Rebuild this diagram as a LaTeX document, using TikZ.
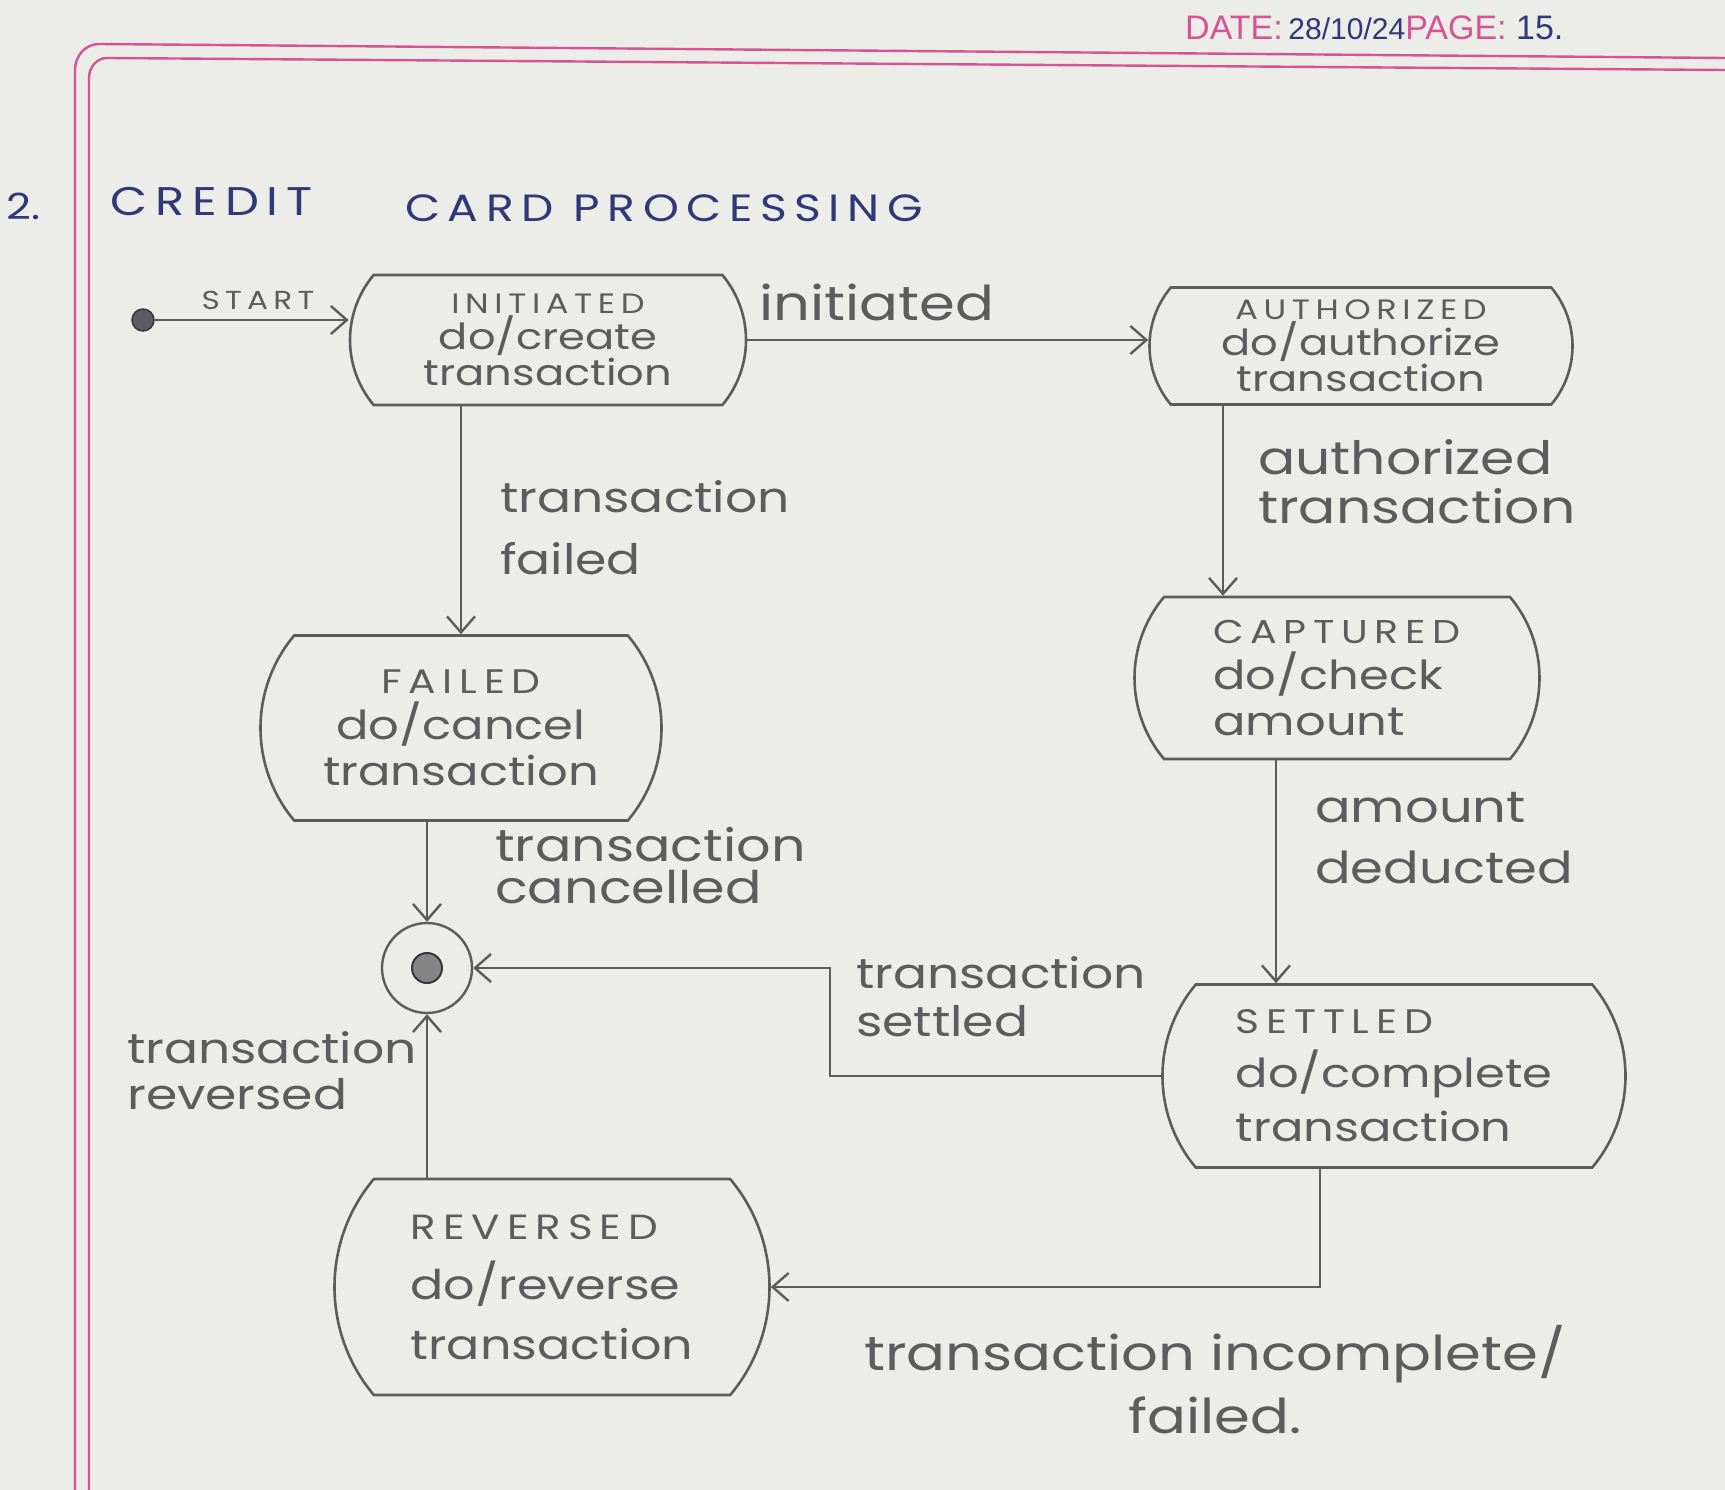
\documentclass[tikz,border=0pt]{standalone}
\usepackage{fontspec}
\setmainfont[FakeStretch=1.2]{Poppins}
\newfontfamily\capsfont[FakeStretch=1.2, LetterSpace=20]{Poppins}
\newfontfamily\headfont{Liberation Sans}
\usetikzlibrary{shapes.misc, arrows.meta, calc}
\definecolor{paper}{RGB}{236,236,233}
\definecolor{pencil}{RGB}{92,92,92}
\definecolor{ink}{RGB}{48,56,120}
\definecolor{marginpink}{RGB}{214,84,146}
\begin{document}
\begin{tikzpicture}[x=1pt, y=-1pt,
  state/.style={rounded rectangle, rounded rectangle arc length=80, draw=pencil,
    line width=2.6pt, text=pencil, inner sep=0pt},
  arr/.style={draw=pencil, line width=2.4pt,
    -{Straight Barb[length=16pt, width=28pt, line width=2.4pt]}},
  lbl/.style={text=pencil, align=left, anchor=west, inner sep=0pt}]
% page
\useasboundingbox (0,0) rectangle (1725,1490);
\fill[paper] (0,0) rectangle (1725,1490);
\draw[marginpink, line width=2.4pt] (75,1490) -- (75,70) to[out=90,in=180] (99,44) -- (1725,58);
\draw[marginpink, line width=2.4pt] (89,1490) -- (89,78) to[out=90,in=180] (107,58) -- (1725,70);

% header and title
\node[anchor=west, inner sep=0pt, font=\headfont\fontsize{34}{36}\selectfont] (header) at (1185,28)
  {\textcolor{marginpink}{DATE:}\,\textcolor{ink}{\fontsize{30}{36}\selectfont 28/10/24}\textcolor{marginpink}{PAGE:}\;\textcolor{ink}{15.}};
\node[anchor=west, inner sep=0pt, text=ink, font=\fontsize{36}{40}\selectfont] (num) at (6,206) {2.};
\node[anchor=west, inner sep=0pt, text=ink, font=\capsfont\fontsize{40}{44}\selectfont] (title1) at (110,202) {CREDIT};
\node[anchor=west, inner sep=0pt, text=ink, font=\capsfont\fontsize{38}{44}\selectfont] (title2) at (405,208) {CARD PROCESSING};

% states
\node[state, minimum width=396pt, minimum height=130pt, align=center,
  font=\fontsize{36}{36}\selectfont] (init) at (548,340)
  {{\capsfont\fontsize{28}{36}\selectfont INITIATED}\\do/create\\transaction};
\node[state, minimum width=423pt, minimum height=117pt, align=center,
  font=\fontsize{36}{36}\selectfont] (auth) at (1361,346)
  {{\capsfont\fontsize{28}{36}\selectfont AUTHORIZED}\\do/authorize\\transaction};
\node[state, minimum width=401pt, minimum height=185pt, align=center,
  font=\fontsize{40}{46}\selectfont] (failed) at (461,728)
  {{\capsfont\fontsize{34}{46}\selectfont FAILED}\\do/cancel\\transaction};
\node[state, minimum width=405pt, minimum height=162pt, align=left,
  font=\fontsize{40}{46}\selectfont] (captured) at (1337,678)
  {{\capsfont\fontsize{33}{46}\selectfont CAPTURED}\\do/check\\amount};
\node[state, minimum width=463pt, minimum height=183pt, align=left,
  font=\fontsize{40}{54}\selectfont] (settled) at (1394,1076)
  {{\capsfont\fontsize{34}{54}\selectfont SETTLED}\\do/complete\\transaction};
\node[state, minimum width=435pt, minimum height=216pt, align=left,
  font=\fontsize{41}{60}\selectfont] (reversed) at (552,1287)
  {{\capsfont\fontsize{35}{60}\selectfont REVERSED}\\do/reverse\\transaction};

% pseudo states
\node[circle, fill=pencil, draw=pencil!60!black, line width=1.5pt, minimum size=22pt, inner sep=0pt] (start) at (143,320) {};
\node[circle, draw=pencil, line width=2.4pt, minimum size=90pt, inner sep=0pt] (final) at (427,968) {};
\node[circle, fill=pencil!75, draw=pencil!60!black, line width=2pt, minimum size=30pt, inner sep=0pt] (finaldot) at (final.center) {};

% helper coordinates for vertical connectors
\coordinate (xauth) at (1223,0);
\coordinate (xcap) at (1276,0);
\coordinate (xset) at (1320,0);
\coordinate (sbend) at (830,0);

% transitions
\draw[arr] (start) -- (init.west |- start);
\draw[arr] (init.east) -- (auth.west |- init.east);
\draw[arr] (init.south -| failed.north) -- (failed.north);
\draw[arr] (auth.south -| xauth) -- (captured.north -| xauth);
\draw[arr] (captured.south -| xcap) -- (settled.north -| xcap);
\draw[arr] (failed.south -| final.north) -- (final.north);
\draw[arr] (settled.west) -- (settled.west -| sbend) |- (final.east);
\draw[arr] (settled.south -| xset) |- (reversed.east);
\draw[arr] (reversed.north -| final.south) -- (final.south);

% labels
\node[lbl, anchor=center, font=\capsfont\fontsize{26}{32}\selectfont] (lstart) at (258,300) {START};
\node[lbl, font=\fontsize{48}{50}\selectfont] (linit) at (759,302) {initiated};
\node[lbl, font=\fontsize{46}{49}\selectfont] (lauth) at (1258,482) {authorized\\transaction};
\node[lbl, font=\fontsize{42}{62}\selectfont] (lfail) at (500,528) {transaction\\failed};
\node[lbl, font=\fontsize{45}{42}\selectfont] (lcancel) at (495,866) {transaction\\cancelled};
\node[lbl, font=\fontsize{44}{61}\selectfont] (lamount) at (1315,838) {amount\\deducted};
\node[lbl, font=\fontsize{42}{48}\selectfont] (lsettled) at (856,997) {transaction\\settled};
\node[lbl, font=\fontsize{42}{46}\selectfont] (lreversed) at (127,1071) {transaction\\reversed};
\node[lbl, anchor=center, align=center, font=\fontsize{48}{63}\selectfont] (lincomplete) at (1215,1380) {transaction incomplete/\\failed.};
\end{tikzpicture}
\end{document}
